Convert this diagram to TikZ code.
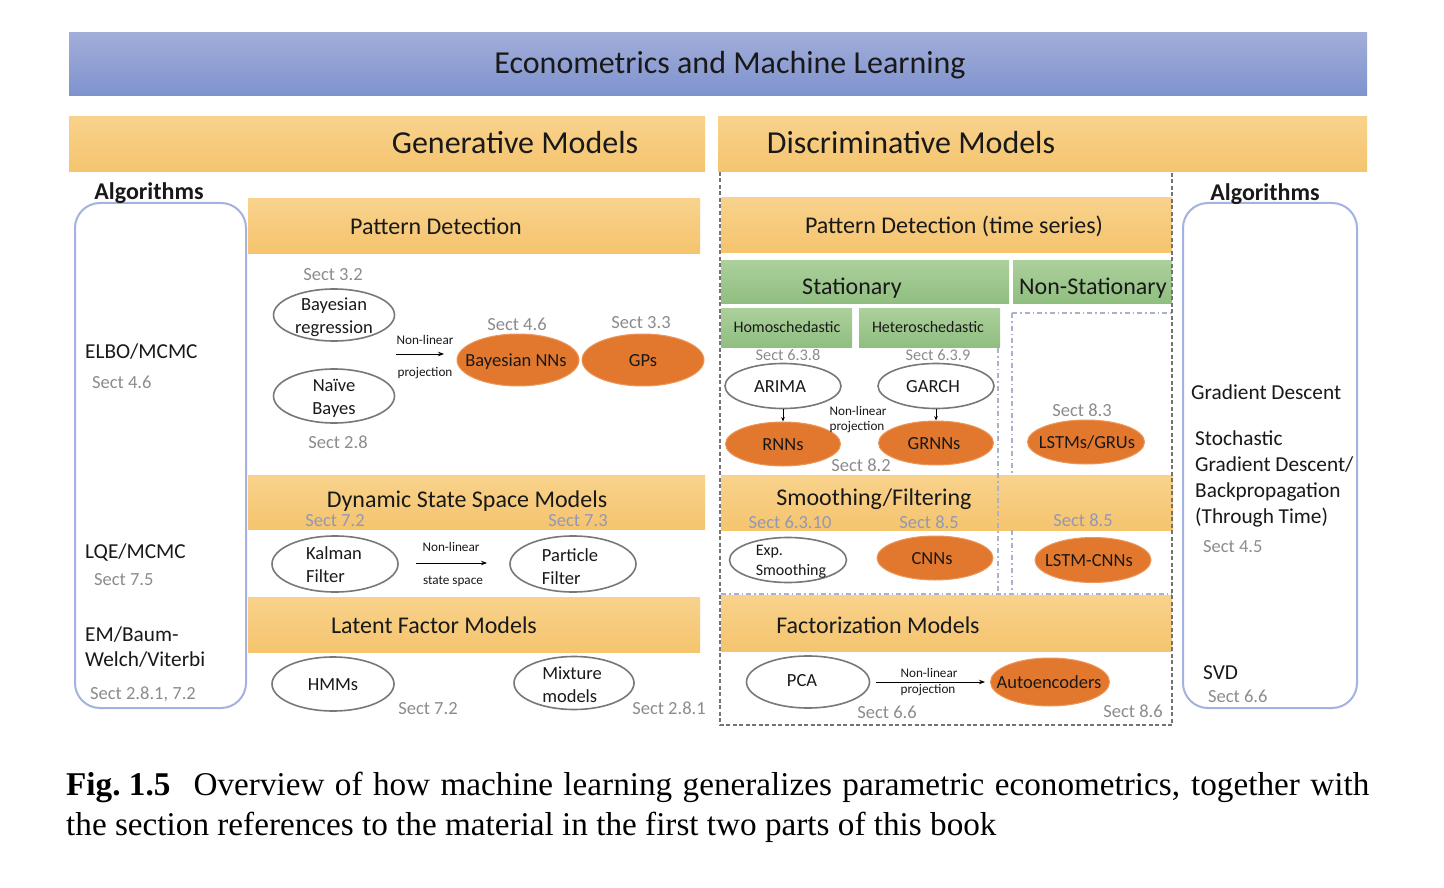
\documentclass[tikz,border=0pt]{standalone}
\usepackage{fontspec}
\setmainfont{Carlito}
\newfontfamily\capfont{Liberation Serif}
\usetikzlibrary{shapes.geometric,arrows.meta}
\definecolor{bluetop}{RGB}{162,174,218}
\definecolor{bluebot}{RGB}{126,146,205}
\definecolor{ortop}{RGB}{248,210,140}
\definecolor{orbot}{RGB}{245,196,110}
\definecolor{grtop}{RGB}{172,208,156}
\definecolor{grbot}{RGB}{144,190,128}
\definecolor{orell}{RGB}{226,120,46}
\definecolor{orelldraw}{RGB}{236,150,90}
\definecolor{sectgray}{RGB}{140,140,140}
\definecolor{sectbar}{RGB}{145,152,182}
\definecolor{boxblue}{RGB}{163,178,224}
\definecolor{framegray}{RGB}{115,115,115}
\definecolor{dotblue}{RGB}{170,177,205}
\definecolor{ellgray}{RGB}{120,120,120}
\definecolor{txt}{RGB}{25,25,25}
\tikzset{
  orbar/.style={top color=ortop, bottom color=orbot},
  grbar/.style={top color=grtop, bottom color=grbot},
  hd/.style={font=\fontsize{32}{38}\selectfont, text=txt, inner sep=0, text height=19pt, text depth=0pt},
  bart/.style={font=\fontsize{24}{29}\selectfont, text=txt, inner sep=0, text height=14.4pt, text depth=0pt},
  subt/.style={font=\fontsize{16}{19}\selectfont, text=txt, inner sep=0, text height=9.6pt, text depth=0pt},
  sect/.style={font=\fontsize{18.5}{22}\selectfont, text=sectgray, inner sep=0, text height=11pt, text depth=0pt},
  sectsm/.style={sect, font=\fontsize{16.3}{19}\selectfont, text height=9.8pt},
  sectb/.style={sect, text=sectbar},
  small/.style={font=\fontsize{13.2}{15}\selectfont, text=txt, inner sep=0, text height=8pt, text depth=0pt},
  alg/.style={font=\fontsize{21.3}{26}\selectfont, text=txt, inner sep=0, anchor=west, text height=12.8pt, text depth=0pt},
  algsect/.style={sect, anchor=west},
  algh/.style={font=\bfseries\fontsize{24}{29}\selectfont, text=txt, inner sep=0, text height=14.4pt, text depth=0pt},
  wel/.style={ellipse, draw=ellgray, line width=1.6pt, fill=white, inner sep=0},
  oel/.style={ellipse, fill=orell, draw=orelldraw, line width=1pt, inner sep=0},
  elt/.style={font=\fontsize{18.5}{23}\selectfont, text=txt, inner sep=0, text height=11pt, text depth=0pt},
  elt2/.style={font=\fontsize{18.5}{23}\selectfont, text=txt, inner sep=0, align=center},
  elt2l/.style={elt2, align=left},
  arr/.style={-{Stealth[length=6pt,width=4.5pt]}, line width=0.8pt, black},
  rbox/.style={draw=boxblue, line width=2pt, rounded corners=25pt},
  frame/.style={draw=framegray, line width=2pt, dash pattern=on 4pt off 2.5pt},
  dd/.style={draw=dotblue, line width=1.6pt, dash pattern=on 5pt off 3pt on 1.5pt off 3pt},
}
\begin{document}
\begin{tikzpicture}[x=1pt,y=-1pt]
\fill[white] (0,0) rectangle (1444,888);
\useasboundingbox (0,0) rectangle (1444,888);

% ---- bars ----
\path[top color=bluetop, bottom color=bluebot] (69,33) rectangle (1367,96);
\path[orbar] (69,117) rectangle (705,172);
\path[orbar] (718,117) rectangle (1367,172);
\path[orbar] (248,199) rectangle (700,253);
\path[orbar] (721,198) rectangle (1172,252);
\path[orbar] (248,475) rectangle (705,529);
\path[orbar] (248,597) rectangle (700,652);
\path[orbar] (721,475) rectangle (1173,530);
\path[orbar] (721,595) rectangle (1172,651);
\path[grbar] (721,260) rectangle (1009,303);
\path[grbar] (1013,260) rectangle (1172,303);
\path[grbar] (721,308) rectangle (852,347);
\path[grbar] (859,308) rectangle (1000,347);

% ---- algorithm boxes ----
\draw[rbox] (75,203) rectangle (246,708);
\draw[rbox] (1183,203) rectangle (1357,708);

% ---- dash-dot separators ----
\draw[dd] (1012,313) -- (1172,313);
\draw[dd] (1012,313) -- (1012,475);
\draw[dd] (1012,530) -- (1012,594);
\draw[dd] (721,594) -- (1172,594);
\draw[dd] (998,348) -- (998,594);

% ---- discriminative frame ----
\draw[frame] (720,172) -- (720,725) -- (1172,725) -- (1172,172);

% ---- headings ----
\node[hd] (title) at (730,64) {Econometrics and Machine Learning};
\node[hd] (gen) at (515,144) {Generative Models};
\node[hd] (disc) at (911,144) {Discriminative Models};
\node[algh] (algl) at (149,192) {Algorithms};
\node[algh] (algr) at (1265,193) {Algorithms};
\node[bart] (pd) at (436,227) {Pattern Detection};
\node[bart] (pdts) at (954,226) {Pattern Detection (time series)};
\node[bart] (stat) at (852,287) {Stationary};
\node[bart] (nstat) at (1093,287) {Non-Stationary};
\node[subt] (homo) at (787,328) {Homoschedastic};
\node[subt] (hetero) at (928,328) {Heteroschedastic};
\node[bart] (dssm) at (467,500) {Dynamic State Space Models};
\node[bart] (lfm) at (434,626) {Latent Factor Models};
\node[bart] (smf) at (874,498) {Smoothing/Filtering};
\node[bart] (fm) at (878,626) {Factorization Models};

% ---- left algorithms ----
\node[alg] (a1) at (85,352) {ELBO/MCMC};
\node[algsect] (a1s) at (92,383) {Sect 4.6};
\node[alg] (a2) at (85,552) {LQE/MCMC};
\node[algsect] (a2s) at (94,580) {Sect 7.5};
\node[alg] (a3) at (85,635) {EM/Baum-};
\node[alg] (a3b) at (85,660) {Welch/Viterbi};
\node[algsect] (a3s) at (90,694) {Sect 2.8.1, 7.2};

% ---- right algorithms ----
\node[alg] (b1) at (1191,393) {Gradient Descent};
\node[alg] (b2) at (1195,439) {Stochastic};
\node[alg] (b2b) at (1195,465) {Gradient Descent/};
\node[alg] (b2c) at (1195,491) {Backpropagation};
\node[alg] (b2d) at (1195,517) {(Through Time)};
\node[algsect] (b2s) at (1203,547) {Sect 4.5};
\node[alg] (b3) at (1203,673) {SVD};
\node[algsect] (b3s) at (1208,697) {Sect 6.6};

% ---- generative: pattern detection ----
\node[sect] (s32) at (333,275) {Sect 3.2};
\node[wel, minimum width=121pt, minimum height=52pt] (br) at (334,315) {};
\node[elt2] (brt) at (334,317) {Bayesian\\regression};
\node[wel, minimum width=121pt, minimum height=54pt] (nb) at (334,396) {};
\node[elt2] (nbt) at (334,398) {Naïve\\Bayes};
\node[sect] (s28) at (338,443) {Sect 2.8};
\node[small] (nl1) at (425,340) {Non-linear};
\node[small] (pj1) at (425,372) {projection};
\coordinate (p1a) at (396,354);
\coordinate (p1b) at (444,354);
\draw[arr] (p1a) -- (p1b);
\node[sect] (s46) at (517,325) {Sect 4.6};
\node[sect] (s33) at (641,323) {Sect 3.3};
\node[oel, minimum width=122pt, minimum height=52pt] (bnn) at (518,360) {};
\node[elt] (bnnt) at (516,361) {Bayesian NNs};
\node[oel, minimum width=122pt, minimum height=52pt] (gps) at (643,360) {};
\node[elt] (gpst) at (643,361) {GPs};

% ---- generative: state space ----
\node[sectb] (s72) at (335,521) {Sect 7.2};
\node[sectb] (s73) at (578,521) {Sect 7.3};
\node[wel, minimum width=126pt, minimum height=56pt] (kal) at (335,564) {};
\node[elt2l] (kalt) at (334,565) {Kalman\\Filter};
\node[wel, minimum width=126pt, minimum height=56pt] (par) at (573,564) {};
\node[elt2l] (part) at (570,567) {Particle\\Filter};
\node[small] (nl2) at (451,547) {Non-linear};
\node[small] (ss2) at (453,580) {state space};
\coordinate (p2a) at (416,563);
\coordinate (p2b) at (487,563);
\draw[arr] (p2a) -- (p2b);

% ---- generative: latent factor ----
\node[wel, minimum width=122pt, minimum height=54pt] (hmm) at (333,684) {};
\node[elt] (hmmt) at (333,685) {HMMs};
\node[wel, minimum width=120pt, minimum height=53pt] (mix) at (574,683) {};
\node[elt2l] (mixt) at (572,685) {Mixture\\models};
\node[sect] (s72b) at (428,709) {Sect 7.2};
\node[sect] (s281) at (669,709) {Sect 2.8.1};

% ---- discriminative: stationary ----
\node[sectsm] (s638) at (788,356) {Sect 6.3.8};
\node[sectsm] (s639) at (938,356) {Sect 6.3.9};
\node[wel, minimum width=116pt, minimum height=45pt] (arima) at (783,386) {};
\node[elt] (arimat) at (780,387) {ARIMA};
\node[wel, minimum width=116pt, minimum height=45pt] (garch) at (936,386) {};
\node[elt] (garcht) at (933,387) {GARCH};
\node[oel, minimum width=115pt, minimum height=44pt] (rnn) at (783,444) {};
\node[elt] (rnnt) at (783,445) {RNNs};
\node[oel, minimum width=115pt, minimum height=44pt] (grnn) at (936,443) {};
\node[elt] (grnnt) at (934,444) {GRNNs};
\draw[arr, -{Stealth[length=4.5pt,width=3.5pt]}, line width=0.6pt] (arima) -- (rnn);
\draw[arr, -{Stealth[length=4.5pt,width=3.5pt]}, line width=0.6pt] (garch) -- (grnn);
\node[small] (nl3) at (858,411) {Non-linear};
\node[small] (pj3) at (857,426) {projection};
\node[sect] (s82) at (861,466) {Sect 8.2};
\node[sect] (s83) at (1082,411) {Sect 8.3};
\node[oel, minimum width=117pt, minimum height=44pt] (lstm) at (1086,442) {};
\node[elt] (lstmt) at (1087,443) {LSTMs/GRUs};

% ---- discriminative: smoothing ----
\node[sectb] (s6310) at (790,523) {Sect 6.3.10};
\node[sectb] (s85a) at (929,523) {Sect 8.5};
\node[sectb] (s85b) at (1083,521) {Sect 8.5};
\node[wel, minimum width=117pt, minimum height=45pt] (exps) at (788,560) {};
\node[font=\fontsize{16}{20}\selectfont, text=txt, inner sep=0, align=left] (expst) at (791,562) {Exp.\\Smoothing};
\node[oel, minimum width=116pt, minimum height=44pt] (cnn) at (935,558) {};
\node[elt] (cnnt) at (932,559) {CNNs};
\node[oel, minimum width=116pt, minimum height=45pt] (lcnn) at (1093,560) {};
\node[elt] (lcnnt) at (1089,561) {LSTM-CNNs};

% ---- discriminative: factorization ----
\node[wel, minimum width=123pt, minimum height=52pt] (pca) at (808,682) {};
\node[elt] (pcat) at (802,681) {PCA};
\node[oel, minimum width=119pt, minimum height=48pt] (ae) at (1050,682) {};
\node[elt] (aet) at (1049,683) {Autoencoders};
\draw[arr, shorten <=6pt, shorten >=5pt] (pca.east) -- (ae.west);
\node[small] (nl4) at (929,673) {Non-linear};
\node[small] (pj4) at (928,689) {projection};
\node[sect] (s66) at (887,713) {Sect 6.6};
\node[sect] (s86) at (1133,712) {Sect 8.6};

% ---- caption ----
\node[anchor=base west, inner sep=0] (cap) at (66,795) {\parbox[t]{1303pt}{\capfont\fontsize{33.2}{40}\selectfont\textbf{Fig.\hspace{0.25em}1.5}\hspace{0.7em}Overview of how machine learning generalizes parametric econometrics, together with\linebreak the section references to the material in the first two parts of this book}};
\end{tikzpicture}
\end{document}
